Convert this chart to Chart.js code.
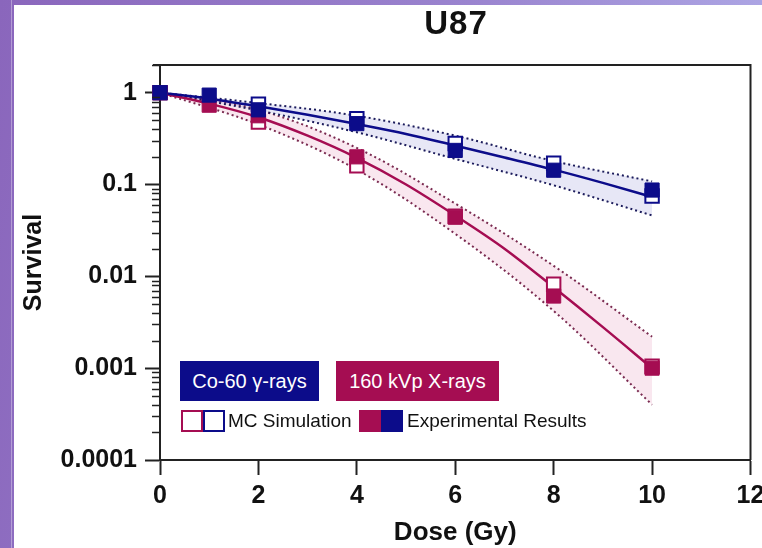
<!DOCTYPE html>
<html>
<head>
<meta charset="utf-8">
<script src="https://cdn.jsdelivr.net/npm/chart.js@4.4.1/dist/chart.umd.min.js"></script>
<style>
  html, body { margin: 0; padding: 0; }
  body {
    width: 762px; height: 548px; overflow: hidden; position: relative;
    background: linear-gradient(100deg, #8a66bc 0%, #9a84cf 55%, #b2afea 100%);
    font-family: 'Liberation Sans', Arial, sans-serif;
  }
  .panel { position: absolute; left: 14px; top: 5px; right: 0; bottom: 0; background: #fff; }
  .edge { position: absolute; left: 11px; top: 0; bottom: 0; width: 1px; background: rgba(255,255,255,0.35); }
  .wrap { position: absolute; left: 0; top: 0; width: 762px; height: 548px; }
  .title {
    position: absolute; left: 356px; width: 200px; top: 5px; line-height: 36px;
    text-align: center; font-weight: bold; font-size: 33px; letter-spacing: 1px; color: #111;
  }
  .tag {
    position: absolute; top: 361px; height: 40px; line-height: 40px;
    color: #fff; font-size: 20px; text-align: center;
  }
  .key { position: absolute; top: 410px; width: 18px; height: 18px; border: 2px solid; background: #fff; }
  .keytext { position: absolute; top: 410px; line-height: 22px; font-size: 19px; color: #111; }
</style>
</head>
<body>
<div class="panel"></div>
<div class="edge"></div>
<div class="wrap"><canvas id="chart"></canvas></div>
<div class="title" id="title"></div>
<div class="tag" id="tagCo" style="left:180px;width:139px;background:#0c0c8a;"></div>
<div class="tag" id="tagXr" style="left:336px;width:163px;background:#a50d52;"></div>
<div class="key" style="left:181px;border-color:#a50d52;"></div>
<div class="key" style="left:203px;border-color:#0c0c8a;"></div>
<div class="keytext" id="keyMC" style="left:228px;"></div>
<div class="key" style="left:359px;border-color:#a50d52;background:#a50d52;"></div>
<div class="key" style="left:381px;border-color:#0c0c8a;background:#0c0c8a;"></div>
<div class="keytext" id="keyExp" style="left:407px;"></div>
<script>
const chartTitle = 'U87';
const seriesNames = ['Co-60 γ-rays', '160 kVp X-rays'];
const markerNames = ['MC Simulation', 'Experimental Results'];

// measured points
const doses = [0, 1, 2, 4, 6, 8, 10];
const coExp = [1, 0.94, 0.65, 0.46, 0.235, 0.143, 0.087];
const xrExp = [1, 0.73, 0.56, 0.2, 0.044, 0.0061, 0.001];

// MC simulation points
const mcDoses = [0, 2, 4, 6, 8, 10];
const coMC = [1, 0.75, 0.52, 0.28, 0.17, 0.075];
const xrMC = [1, 0.48, 0.16, 0.045, 0.0082, 0.00105];

// fitted curves
const fitDoses = [0, 1, 2, 3, 4, 5, 6, 7, 8, 9, 10];
const coFit = [1, 0.86, 0.71, 0.575, 0.455, 0.355, 0.265, 0.197, 0.145, 0.104, 0.073];
const xrFit = [1, 0.76, 0.54, 0.34, 0.195, 0.1, 0.046, 0.02, 0.0076, 0.0028, 0.001];

// confidence bands
const bandDoses = [0, 2, 4, 6, 8, 10];
const coUpper = [1, 0.77, 0.56, 0.34, 0.18, 0.108];
const coLower = [1, 0.64, 0.37, 0.19, 0.098, 0.046];
const xrUpper = [1, 0.65, 0.25, 0.062, 0.013, 0.0022];
const xrLower = [1, 0.45, 0.145, 0.029, 0.0042, 0.0004];

const xTicks = [0, 2, 4, 6, 8, 10, 12];
const yTicks = [0.0001, 0.001, 0.01, 0.1, 1];

const navy = '#0c0c8a';
const crimson = '#a50d52';

document.getElementById('title').textContent = chartTitle;
document.getElementById('tagCo').textContent = seriesNames[0];
document.getElementById('tagXr').textContent = seriesNames[1];
document.getElementById('keyMC').textContent = markerNames[0];
document.getElementById('keyExp').textContent = markerNames[1];

const toXY = (xs, ys) => xs.map((x, i) => ({ x, y: ys[i] }));

const band = (data, color, fill) => ({
    data,
    borderColor: color,
    borderWidth: 2,
    borderDash: [2, 3],
    pointRadius: 0,
    tension: 0.35,
    fill,
    order: 3
});

const points = (data, color, open) => ({
    data,
    showLine: false,
    clip: false,
    pointStyle: 'rect',
    pointRadius: open ? 9.5 : 10,
    borderWidth: open ? 2 : 1,
    pointBackgroundColor: open ? '#fff' : color,
    pointBorderColor: color,
    order: open ? 1 : 0
});

const framePlugin = {
    id: 'frame',
    afterDraw(chart) {
        const { ctx, chartArea: { left, right, top, bottom }, scales: { y } } = chart;
        ctx.save();
        ctx.strokeStyle = '#222';
        ctx.lineWidth = 2;
        ctx.beginPath();
        ctx.moveTo(left - 7, top);
        ctx.lineTo(right, top);
        ctx.lineTo(right, bottom);
        ctx.stroke();
        // minor log ticks
        ctx.lineWidth = 1.5;
        ctx.beginPath();
        yTicks.forEach(d => {
            for (let k = 2; k < 10; k++) {
                const v = d * k;
                if (v > y.max) break;
                const py = Math.round(y.getPixelForValue(v)) + 0.5;
                ctx.moveTo(left - 8, py);
                ctx.lineTo(left, py);
            }
        });
        ctx.stroke();
        ctx.restore();
    }
};

const tickFont = { family: "'Liberation Sans', Arial, sans-serif", size: 25, weight: 'bold' };

new Chart(document.getElementById('chart'), {
    type: 'line',
    data: {
        datasets: [
            band(toXY(bandDoses, coUpper), '#1c1c5c', false),
            band(toXY(bandDoses, coLower), '#1c1c5c', { target: 0, above: 'rgba(40,40,170,0.11)', below: 'rgba(40,40,170,0.11)' }),
            band(toXY(bandDoses, xrUpper), '#7a2a50', false),
            band(toXY(bandDoses, xrLower), '#7a2a50', { target: 2, above: 'rgba(200,20,100,0.1)', below: 'rgba(200,20,100,0.1)' }),
            {
                data: toXY(fitDoses, coFit),
                borderColor: navy, borderWidth: 2.5, pointRadius: 0,
                cubicInterpolationMode: 'monotone', fill: false, order: 2
            },
            {
                data: toXY(fitDoses, xrFit),
                borderColor: crimson, borderWidth: 2.5, pointRadius: 0,
                cubicInterpolationMode: 'monotone', fill: false, order: 2
            },
            points(toXY(mcDoses, coMC), navy, true),
            points(toXY(mcDoses, xrMC), crimson, true),
            points(toXY(doses, coExp), navy, false),
            points(toXY(doses, xrExp), crimson, false)
        ]
    },
    options: {
        responsive: true,
        maintainAspectRatio: false,
        animation: false,
        layout: { padding: { top: 65, right: 10, left: 0, bottom: 0 } },
        scales: {
            x: {
                type: 'linear',
                min: 0,
                max: 12,
                afterBuildTicks: (s) => { s.ticks = xTicks.map(v => ({ value: v })); },
                afterFit: (s) => { s.height = 88; s.paddingLeft = 0; s.paddingRight = 0; },
                ticks: { color: '#111', font: tickFont, padding: 6, autoSkip: false, maxRotation: 0 },
                grid: { drawOnChartArea: false, tickLength: 15, tickWidth: 2, tickColor: '#222' },
                border: { color: '#222', width: 2 },
                title: {
                    display: true, text: 'Dose (Gy)', color: '#111',
                    font: { family: "'Liberation Sans', Arial, sans-serif", size: 26, weight: 'bold' },
                    padding: { top: 0, bottom: 0 }
                }
            },
            y: {
                type: 'logarithmic',
                min: 0.0001,
                max: 2,
                afterBuildTicks: (s) => { s.ticks = yTicks.map(v => ({ value: v })); },
                afterFit: (s) => { s.width = 160; s.paddingTop = 0; s.paddingBottom = 0; },
                ticks: {
                    color: '#111', font: tickFont, padding: 8, autoSkip: false,
                    callback: (v) => String(v)
                },
                grid: { drawOnChartArea: false, tickLength: 15, tickWidth: 2, tickColor: '#222' },
                border: { color: '#222', width: 2 },
                title: {
                    display: true, text: 'Survival', color: '#111',
                    font: { family: "'Liberation Sans', Arial, sans-serif", size: 25, weight: 'bold' },
                    padding: { top: 19, bottom: 0 }
                }
            }
        },
        plugins: {
            legend: { display: false },
            tooltip: { enabled: false },
            filler: { drawTime: 'beforeDatasetsDraw' }
        }
    },
    plugins: [framePlugin]
});
</script>
</body>
</html>
